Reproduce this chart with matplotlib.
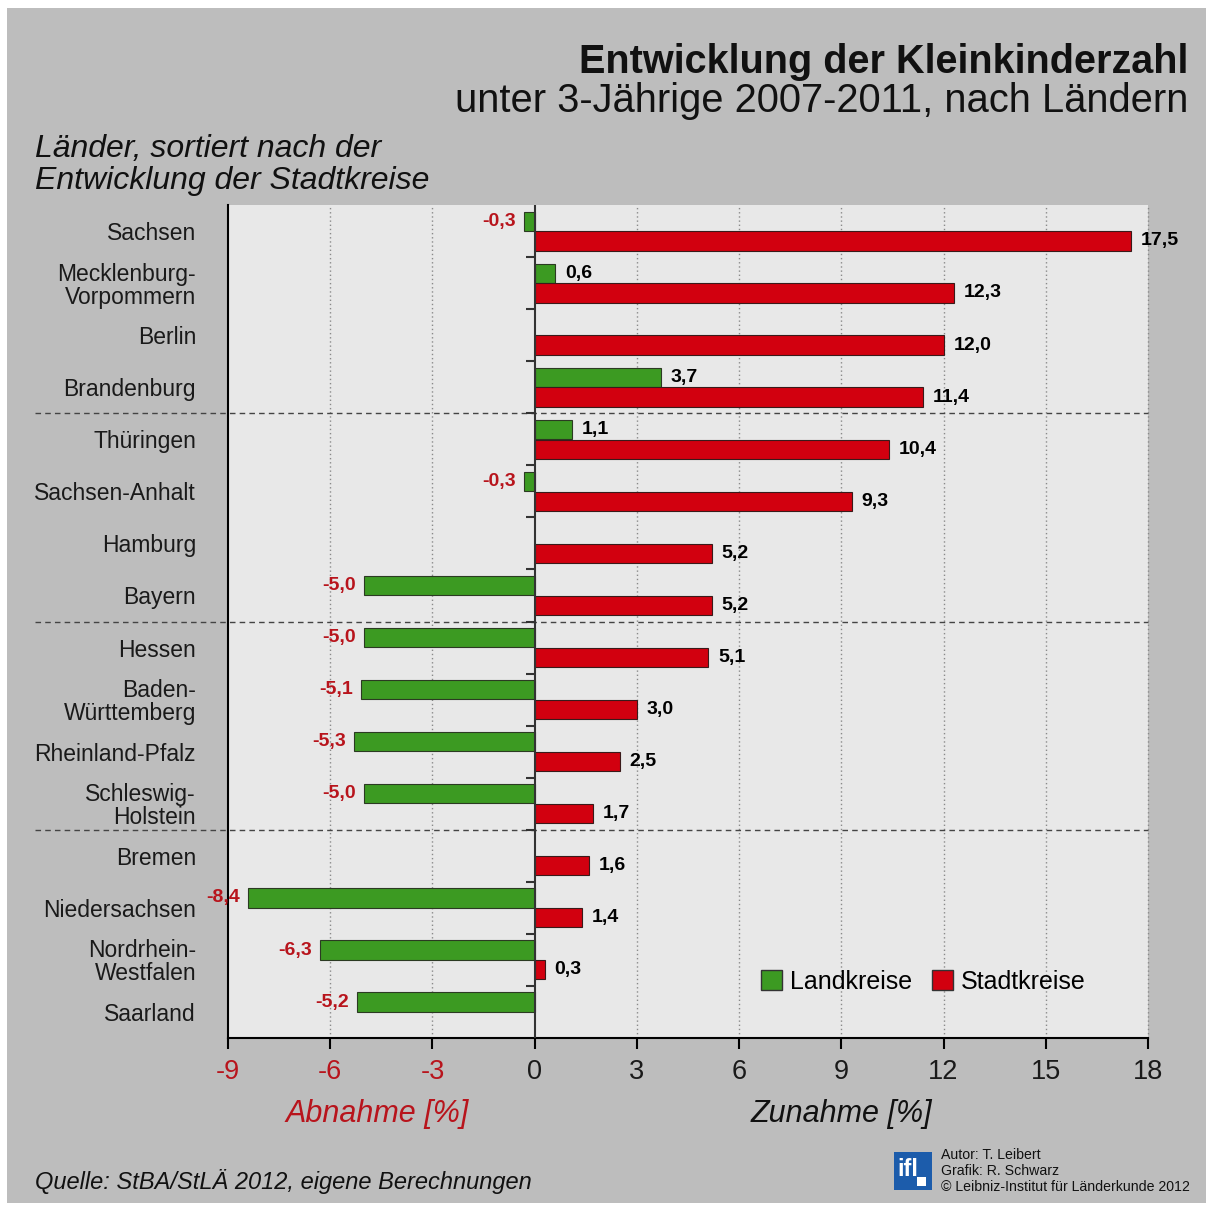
import numpy as np
import matplotlib.pyplot as plt
import matplotlib.patches as mpatches

plt.rcParams['font.family'] = ['Liberation Sans', 'DejaVu Sans']

# Daten: Entwicklung der unter 3-Jährigen 2007-2011 in %
laender = ["Sachsen", "Mecklenburg-\nVorpommern", "Berlin", "Brandenburg",
           "Thüringen", "Sachsen-Anhalt", "Hamburg", "Bayern",
           "Hessen", "Baden-\nWürttemberg", "Rheinland-Pfalz", "Schleswig-\nHolstein",
           "Bremen", "Niedersachsen", "Nordrhein-\nWestfalen", "Saarland"]
landkreise = [-0.3, 0.6, None, 3.7, 1.1, -0.3, None, -5.0,
              -5.0, -5.1, -5.3, -5.0, None, -8.4, -6.3, -5.2]
stadtkreise = [17.5, 12.3, 12.0, 11.4, 10.4, 9.3, 5.2, 5.2,
               5.1, 3.0, 2.5, 1.7, 1.6, 1.4, 0.3, None]
xticks = list(range(-9, 19, 3))
gruppe = 4  # Länder pro Block

# Farben
bg = "#bdbdbd"
plotbg = "#e8e8e8"
gruen = "#3c9a22"
rot = "#d2000f"
rot_text = "#b8141c"

W, H = 1213, 1209
def fx(x):
    return x / W
def fy(y):
    return 1 - y / H

fig = plt.figure(figsize=(W / 100, H / 100), dpi=100, facecolor="white")
fig.add_artist(mpatches.Rectangle((fx(7), fy(1203)), fx(1206) - fx(7), fy(8) - fy(1203),
                                  transform=fig.transFigure, facecolor=bg,
                                  edgecolor="none", zorder=-10))

ax = fig.add_axes([fx(228), fy(1038), fx(1148) - fx(228), fy(205) - fy(1038)])
ax.set_facecolor(plotbg)
n = len(laender)
y = np.arange(n)
off = 0.19
h = 0.37

# Balken Landkreise (oben) und Stadtkreise (unten)
ly = [i for i, v in enumerate(landkreise) if v is not None]
sy = [i for i, v in enumerate(stadtkreise) if v is not None]
ax.barh(y[ly] - off, [landkreise[i] for i in ly], height=h, color=gruen,
        edgecolor="#2b3a22", linewidth=0.8, zorder=3)
ax.barh(y[sy] + off, [stadtkreise[i] for i in sy], height=h, color=rot,
        edgecolor="#3a1a1a", linewidth=0.8, zorder=3)

def beschriften(werte, ypos):
    for i in ypos:
        v = werte[i]
        txt = f"{v:.1f}".replace(".", ",")
        yy = y[i] - off if werte is landkreise else y[i] + off
        if v < 0:
            ax.annotate(txt, xy=(v, yy), xytext=(-6, 0), textcoords="offset points",
                        ha="right", va="center", fontsize=14, fontweight="bold",
                        color=rot_text, annotation_clip=False, zorder=5)
        else:
            ax.annotate(txt, xy=(v, yy), xytext=(7, 0), textcoords="offset points",
                        ha="left", va="center", fontsize=14, fontweight="bold",
                        color="black", annotation_clip=False, zorder=5)

beschriften(landkreise, ly)
beschriften(stadtkreise, sy)

ax.set_xlim(xticks[0], xticks[-1])
ax.set_ylim(n - 0.5, -0.5)

# Gitter, Nulllinie, Trennlinien
for t in xticks:
    if t not in (xticks[0], 0):
        ax.axvline(t, color="#8a8a8a", lw=1, ls=(0, (1, 2)), zorder=1, clip_on=False)
ax.axvline(0, color="#333333", lw=1.5, zorder=4)
ax.hlines(np.arange(n - 1) + 0.5, -0.25, 0, color="#333333", lw=1.5, zorder=4)
for b in np.arange(gruppe, n, gruppe) - 0.5:
    ax.plot([-0.21, 1], [b, b], transform=ax.get_yaxis_transform(), color="#444444",
            lw=1, ls=(0, (4, 3)), clip_on=False, zorder=2)

for s in ["top", "right"]:
    ax.spines[s].set_visible(False)
for s in ["left", "bottom"]:
    ax.spines[s].set_linewidth(1.5)
    ax.spines[s].set_color("black")

ax.set_yticks(y)
ax.set_yticklabels(laender, fontsize=16.5, color="#1a1a1a")
for lbl in ax.get_yticklabels():
    lbl.set_linespacing(1.0)
ax.tick_params(axis="y", length=0, pad=23)

ax.set_xticks(xticks)
ax.set_xticklabels([str(t) for t in xticks], fontsize=19.5)
ax.tick_params(axis="x", length=8, width=1.5, pad=7)
for lbl, t in zip(ax.get_xticklabels(), xticks):
    lbl.set_color(rot_text if t < 0 else "#1a1a1a")

# Texte
fig.text(fx(1188), fy(73), "Entwicklung der Kleinkinderzahl", ha="right", va="baseline",
         fontsize=28.5, fontweight="bold", color="#111111")
fig.text(fx(1188), fy(112), "unter 3-Jährige 2007-2011, nach Ländern", ha="right",
         va="baseline", fontsize=28.7, color="#111111")
fig.text(fx(35), fy(157), "Länder, sortiert nach der", ha="left", va="baseline",
         fontsize=23, style="italic", color="#111111")
fig.text(fx(35), fy(189), "Entwicklung der Stadtkreise", ha="left", va="baseline",
         fontsize=23, style="italic", color="#111111")
fig.text(fx(377), fy(1122), "Abnahme [%]", ha="center", va="baseline",
         fontsize=22, style="italic", color=rot_text)
fig.text(fx(841), fy(1122), "Zunahme [%]", ha="center", va="baseline",
         fontsize=22, style="italic", color="#111111")
fig.text(fx(35), fy(1189), "Quelle: StBA/StLÄ 2012, eigene Berechnungen", ha="left",
         va="baseline", fontsize=17, style="italic", color="#111111")

# Legende
handles = [mpatches.Patch(facecolor=gruen, edgecolor="#333333", label="Landkreise"),
           mpatches.Patch(facecolor=rot, edgecolor="#333333", label="Stadtkreise")]
fig.legend(handles=handles, loc="center left", bbox_to_anchor=(fx(761), fy(982)),
           frameon=False, ncol=2, fontsize=18, handlelength=0.85, handleheight=0.85,
           handletextpad=0.3, columnspacing=0.8, borderpad=0, borderaxespad=0)

# Logo und Impressum
fig.add_artist(mpatches.Rectangle((fx(894), fy(1190)), fx(932) - fx(894), fy(1152) - fy(1190),
                                  transform=fig.transFigure, facecolor="#1c5cab",
                                  edgecolor="none"))
fig.text(fx(897), fy(1176), "ifl", ha="left", va="baseline", fontsize=17,
         fontweight="bold", color="white")
fig.add_artist(mpatches.Rectangle((fx(917), fy(1186)), fx(926) - fx(917), fy(1177) - fy(1186),
                                  transform=fig.transFigure, facecolor="white",
                                  edgecolor="none"))
fig.text(fx(941), fy(1159), "Autor: T. Leibert", fontsize=10.2, va="baseline", color="#111111")
fig.text(fx(941), fy(1175), "Grafik: R. Schwarz", fontsize=10.2, va="baseline", color="#111111")
fig.text(fx(941), fy(1191), "© Leibniz-Institut für Länderkunde 2012", fontsize=10.2,
         va="baseline", color="#111111")

fig.savefig("out.png", dpi=100, facecolor="white")
